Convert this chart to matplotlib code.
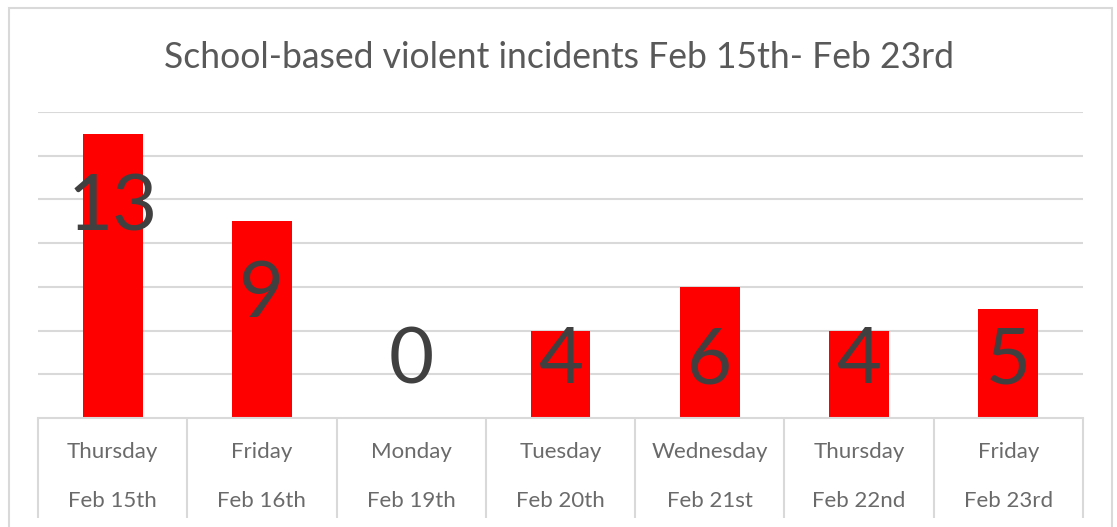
import matplotlib.pyplot as plt
from matplotlib.patches import Rectangle

# data
days = ['Thursday', 'Friday', 'Monday', 'Tuesday', 'Wednesday', 'Thursday', 'Friday']
dates = ['Feb 15th', 'Feb 16th', 'Feb 19th', 'Feb 20th', 'Feb 21st', 'Feb 22nd', 'Feb 23rd']
incidents = [13, 9, 0, 4, 6, 4, 5]

plt.rcParams['font.family'] = ['Lato', 'DejaVu Sans']

fig = plt.figure(figsize=(11.17, 5.27), dpi=100)
ax = fig.add_axes([38 / 1117, 109 / 527, 1045 / 1117, 306 / 527])

x = list(range(len(incidents)))
ax.bar(x, incidents, width=0.40, color='#ff0000', zorder=2)

# big data labels
for xi, v in zip(x, incidents):
    ax.text(xi, max(v - 4.4, 1.6), str(v), ha='center', va='baseline',
            fontsize=56, color='#404040', zorder=3)

ax.set_xlim(-0.5, len(incidents) - 0.5)
ax.set_ylim(0, 14)
ax.set_yticks(range(2, 15, 2))
ax.yaxis.grid(True, color='#d9d9d9', lw=1.5, zorder=0)
ax.tick_params(axis='y', length=0, labelleft=False)

for s in ['top', 'right', 'left']:
    ax.spines[s].set_visible(False)
ax.spines['bottom'].set_color('#d9d9d9')
ax.spines['bottom'].set_linewidth(1.5)

# category labels with separators
ax.set_xticks(x)
ax.set_xticklabels([d + '\n\n' + dt for d, dt in zip(days, dates)],
                   fontsize=16, color='#6a6a6a', linespacing=1.3)
ax.tick_params(axis='x', length=0, pad=17)
ax.set_xticks([i - 0.5 for i in range(len(incidents) + 1)], minor=True)
ax.tick_params(axis='x', which='minor', length=72, width=1.5, color='#d9d9d9', direction='out')

fig.text(0.5, 0.89, 'School-based violent incidents Feb 15th- Feb 23rd', ha='center', va='center',
         fontsize=25.6, color='#595959')

fig.patches.append(Rectangle((9 / 1117, -0.1), 1103 / 1117, 1.085, transform=fig.transFigure,
                             fill=False, edgecolor='#d9d9d9', lw=1.5))

fig.savefig('out.png', dpi=100)
